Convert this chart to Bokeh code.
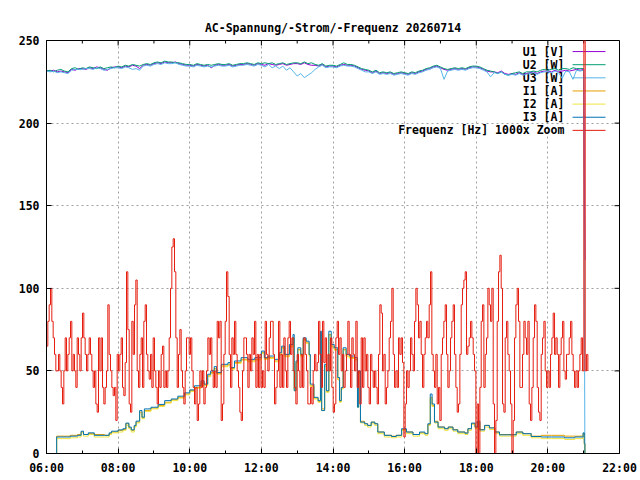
import numpy as np
from bokeh.plotting import figure
from bokeh.models import Range1d, FixedTicker
from bokeh.embed import file_html
from bokeh.resources import INLINE
from bokeh.core.properties import value

def hm(s):
    h, m = s.split(":")
    return int(h) + int(m) / 60.0

TITLE = "AC-Spannung/-Strom/-Frequenz 20260714"
X_TICK_LABELS = ["06:00", "08:00", "10:00", "12:00", "14:00", "16:00", "18:00", "20:00", "22:00"]
X_MINOR_LABELS = ["07:00", "09:00", "11:00", "13:00", "15:00", "17:00", "19:00", "21:00"]
Y_TICKS = [0, 50, 100, 150, 200, 250]

SERIES_NAMES = ["U1 [V]", "U2 [W]", "U3 [W]", "I1 [A]", "I2 [A]", "I3 [A]", "Frequenz [Hz] 1000x Zoom"]
COLORS = ["#9400D3", "#009E73", "#56B4E9", "#E69F00", "#F0E442", "#0072B2", "#E51E10"]

# Voltages, sampled every 6 minutes from 06:00 to 21:00, final reading at 21:02
V_START = "06:00"
V_STEP_MIN = 6
V_END_TIME = "21:02"
U1 = [232.0, 231.5, 232.0, 231.0, 231.5, 231.0, 230.5, 232.5, 232.0, 233.0,
      233.0, 232.5, 233.5, 233.0, 234.0, 233.5, 232.5, 232.0, 233.5, 234.0,
      234.0, 233.5, 234.5, 234.0, 235.0, 234.5, 233.0, 235.0, 235.5, 235.0,
      236.0, 236.5, 236.0, 237.0, 236.5, 236.5, 237.0, 236.0, 235.5, 235.0,
      235.0, 234.5, 235.5, 235.0, 234.5, 235.0, 233.5, 235.0, 235.5, 235.0,
      235.0, 235.5, 234.5, 235.0, 235.5, 235.5, 236.0, 235.5, 235.0, 236.0,
      235.5, 235.0, 236.0, 235.5, 235.0, 235.5, 236.0, 235.0, 235.5, 236.0,
      236.0, 235.5, 236.5, 235.5, 235.0, 235.0, 234.5, 235.5, 234.0, 234.5,
      234.5, 234.0, 235.0, 235.5, 235.0, 235.0, 234.5, 233.5, 232.5, 232.0,
      231.5, 230.5, 231.5, 230.0, 230.5, 230.0, 230.5, 229.5, 230.0, 230.5,
      230.0, 229.5, 230.5, 230.0, 231.0, 231.5, 232.5, 233.0, 234.0, 234.5,
      233.5, 232.5, 232.0, 232.5, 233.0, 232.5, 233.0, 232.5, 233.5, 234.0,
      234.0, 233.5, 232.5, 231.5, 231.0, 231.0, 230.5, 231.5, 230.0, 229.5,
      230.0, 229.5, 230.5, 229.5, 230.0, 230.5, 231.0, 230.0, 231.0, 231.5,
      231.5, 231.0, 232.0, 231.0, 231.5, 232.0, 231.5, 232.0, 232.5, 232.0,
      232.5]
U1_END = 117.0
U2 = [231.5, 232.0, 231.0, 232.0, 232.5, 231.5, 231.0, 233.0, 233.5, 232.5,
      233.5, 233.0, 234.0, 233.5, 233.0, 234.0, 233.0, 233.5, 234.0, 233.5,
      234.5, 234.0, 235.0, 234.5, 235.5, 235.0, 234.5, 235.5, 236.0, 235.5,
      236.5, 237.0, 236.5, 237.5, 237.0, 237.0, 236.5, 236.5, 236.0, 235.5,
      235.5, 235.0, 236.0, 235.5, 235.0, 235.5, 235.0, 235.5, 236.0, 235.5,
      235.5, 236.0, 235.0, 235.5, 236.0, 236.0, 236.5, 236.0, 235.5, 236.5,
      236.0, 236.5, 236.0, 236.5, 235.5, 236.0, 236.5, 235.5, 236.0, 236.5,
      236.5, 236.0, 237.0, 236.0, 236.5, 235.5, 235.0, 236.0, 234.5, 235.0,
      235.0, 234.5, 235.5, 236.5, 235.5, 235.5, 235.0, 234.0, 233.0, 232.5,
      232.0, 231.0, 232.0, 230.5, 231.0, 230.5, 231.0, 230.0, 230.5, 231.0,
      230.5, 230.0, 231.0, 230.5, 231.5, 232.0, 233.0, 233.5, 234.5, 235.0,
      234.0, 233.0, 232.5, 233.0, 233.5, 233.0, 233.5, 233.0, 234.0, 234.5,
      234.5, 234.0, 233.0, 232.0, 231.5, 231.0, 230.0, 231.0, 229.5, 229.0,
      230.0, 230.5, 231.0, 230.0, 231.0, 231.0, 231.5, 231.0, 232.0, 232.5,
      232.0, 232.5, 233.0, 232.0, 233.0, 233.0, 232.5, 233.5, 233.0, 233.0,
      233.0]
U3 = [231.5, 231.0, 231.5, 230.5, 231.0, 230.5, 230.0, 232.0, 232.5, 232.5,
      232.5, 233.0, 233.0, 232.5, 233.5, 233.0, 232.0, 232.5, 233.0, 233.5,
      233.5, 233.0, 234.0, 233.5, 232.5, 233.0, 232.0, 234.5, 235.0, 234.5,
      235.5, 236.0, 235.5, 236.5, 236.0, 236.0, 236.5, 235.5, 235.0, 234.5,
      234.5, 234.0, 235.0, 234.5, 234.0, 234.5, 234.0, 234.5, 235.0, 234.5,
      234.5, 235.0, 234.0, 234.5, 235.0, 235.0, 235.5, 235.0, 234.5, 235.5,
      235.0, 234.0, 235.5, 233.5, 234.5, 233.0, 234.5, 232.0, 233.5, 231.0,
      228.5, 230.0, 227.5, 229.0, 230.5, 232.5, 234.0, 235.0, 233.5, 234.0,
      234.0, 233.5, 234.5, 235.0, 234.5, 234.5, 234.0, 233.0, 232.0, 231.0,
      231.0, 230.0, 231.0, 229.5, 230.0, 229.5, 230.0, 229.0, 229.5, 230.0,
      229.5, 229.0, 230.0, 229.5, 230.5, 231.0, 232.0, 232.5, 233.5, 234.0,
      233.0, 226.5, 231.5, 232.0, 232.5, 232.0, 232.5, 232.0, 233.0, 233.5,
      233.5, 233.0, 232.0, 231.0, 228.0, 230.5, 230.0, 231.0, 229.5, 229.0,
      229.5, 229.0, 230.0, 229.0, 229.5, 230.0, 230.5, 229.5, 230.5, 231.0,
      231.0, 230.5, 231.5, 230.5, 227.0, 231.5, 231.0, 226.5, 232.0, 231.5,
      232.0]
U3_END = 0.0

# Currents, irregular sampling
CUR_TIMES = ["06:15", "06:17", "06:40", "06:52", "06:58", "07:02", "07:10", "07:20", "07:37", "07:45",
             "07:49", "08:00", "08:08", "08:13", "08:18", "08:22", "08:27", "08:30", "08:36", "08:40",
             "08:44", "08:55", "09:07", "09:18", "09:29", "09:40", "09:51", "10:00", "10:08", "10:19",
             "10:24", "10:30", "10:35", "10:41", "10:45", "10:53", "11:04", "11:08", "11:15", "11:26",
             "11:37", "11:49", "12:00", "12:05", "12:11", "12:22", "12:30", "12:34", "12:39", "12:47",
             "12:53", "12:55", "12:58", "13:01", "13:06", "13:10", "13:15", "13:20", "13:22", "13:28",
             "13:35", "13:39", "13:41", "13:46", "13:49", "13:53", "13:57", "14:02", "14:08", "14:11",
             "14:14", "14:17", "14:22", "14:28", "14:36", "14:41", "14:43", "14:46", "14:53", "14:58",
             "15:04", "15:10", "15:15", "15:26", "15:38", "15:46", "15:55", "16:03", "16:14", "16:25",
             "16:34", "16:39", "16:43", "16:46", "16:50", "16:56", "17:07", "17:13", "17:21", "17:29",
             "17:41", "17:46", "17:52", "17:58", "18:02", "18:06", "18:14", "18:22", "18:31", "18:39",
             "18:53", "19:07", "19:18", "19:32", "19:49", "20:06", "20:28", "20:45", "20:59", "21:01",
             "21:02"]
I3 = [0, 10.0, 10.5, 11.0, 13.5, 11.5, 12.5, 11.0, 11.0, 12.5,
      13.5, 14.3, 15.0, 18.4, 16.0, 14.3, 17.0, 19.6, 26.0, 22.0,
      27.0, 28.0, 29.7, 32.0, 33.0, 34.7, 36.7, 38.5, 41.0, 44.0,
      42.0, 48.0, 50.0, 52.6, 49.0, 54.0, 55.0, 52.0, 56.0, 58.0,
      57.0, 58.0, 62.0, 58.0, 59.0, 57.0, 61.0, 65.0, 60.0, 66.0,
      72.0, 38.0, 56.0, 64.0, 60.0, 70.0, 68.0, 60.0, 42.0, 34.0,
      32.0, 74.0, 26.0, 54.0, 38.0, 74.0, 66.0, 64.0, 46.0, 32.0,
      40.0, 64.0, 60.0, 59.0, 58.0, 28.0, 50.0, 19.0, 18.0, 17.0,
      19.0, 18.0, 13.0, 11.0, 10.3, 11.0, 15.0, 13.0, 11.5, 13.0,
      12.0, 18.0, 36.0, 30.0, 19.0, 16.0, 15.0, 16.0, 14.3, 13.0,
      12.3, 15.0, 18.4, 16.0, 19.6, 14.3, 17.0, 15.5, 13.0, 11.3,
      11.3, 13.0, 12.0, 10.3, 10.0, 10.0, 9.5, 10.0, 12.5, 6.0,
      0]
I1 = [0, 10.5, 11.0, 11.5, 13.0, 11.5, 12.0, 11.5, 11.0, 12.0,
      13.0, 14.0, 14.5, 18.0, 15.5, 14.0, 16.5, 19.0, 25.0, 21.5,
      26.0, 27.5, 29.0, 31.0, 32.5, 34.0, 36.0, 38.0, 40.0, 43.0,
      41.5, 47.0, 49.0, 51.5, 48.5, 53.0, 54.0, 51.5, 55.0, 57.0,
      56.0, 57.0, 61.0, 57.5, 58.0, 56.0, 60.0, 64.0, 59.0, 65.0,
      70.0, 39.0, 55.0, 63.0, 59.0, 69.0, 67.0, 59.5, 41.0, 33.5,
      31.5, 72.0, 27.0, 53.0, 37.5, 72.0, 65.0, 63.0, 45.0, 31.5,
      39.5, 63.0, 59.0, 58.0, 57.0, 29.0, 49.0, 19.5, 18.0, 17.0,
      19.0, 18.0, 13.0, 11.0, 10.5, 11.0, 14.5, 13.0, 11.5, 12.5,
      12.0, 17.5, 34.0, 29.0, 19.5, 16.0, 15.0, 16.0, 14.5, 13.0,
      12.5, 15.0, 18.0, 16.0, 19.0, 14.5, 17.0, 15.5, 13.0, 11.5,
      11.5, 13.0, 12.0, 10.5, 11.0, 11.0, 10.5, 10.5, 12.0, 6.0,
      0]
I2 = [0, 9.0, 9.5, 10.0, 12.5, 10.5, 11.5, 10.0, 10.0, 11.5,
      12.5, 13.0, 14.0, 17.0, 15.0, 13.0, 16.0, 18.5, 24.5, 21.0,
      25.5, 27.0, 28.5, 30.5, 32.0, 33.5, 35.5, 37.5, 39.5, 42.5,
      41.0, 46.5, 48.5, 51.0, 48.0, 52.5, 53.5, 51.0, 54.5, 56.5,
      55.5, 56.5, 60.5, 57.0, 57.5, 55.5, 59.5, 63.5, 58.5, 64.5,
      69.5, 38.0, 54.5, 62.5, 58.5, 68.5, 66.5, 59.0, 40.5, 33.0,
      31.0, 71.0, 26.0, 52.5, 37.0, 71.5, 64.5, 62.5, 44.5, 31.0,
      39.0, 62.5, 58.5, 57.5, 56.5, 28.0, 48.5, 18.5, 17.0, 16.0,
      18.0, 17.0, 12.0, 10.0, 9.5, 10.0, 14.0, 12.0, 10.5, 12.0,
      11.0, 17.0, 33.5, 28.5, 18.5, 15.0, 14.0, 15.0, 13.5, 12.0,
      11.5, 14.0, 17.5, 15.0, 18.5, 13.5, 16.0, 14.5, 12.0, 10.5,
      10.5, 12.0, 11.0, 9.5, 9.0, 9.0, 8.5, 9.0, 11.5, 5.0,
      0]

# Frequency (1000x zoom), sampled every ~2.234 minutes from 06:00
F_START = "06:00"
F_STEP_MIN = 2.234
FREQ = [
    65, 80, 90, 100, 80, 70, 60, 50, 50, 60, 50, 40, 30, 50, 70, 50, 60, 70, 80, 50,
    60, 50, 40, 70, 60, 50, 70, 85, 70, 60, 50, 60, 70, 60, 50, 40, 50, 30, 25, 70,
    50, 70, 40, 30, 40, 50, 90, 60, 50, 40, 35, 40, 20, 60, 50, 60, 70, 40, 35, 55,
    110, 75, 30, 25, 80, 60, 90, 105, 50, 40, 60, 70, 40, 80, 90, 60, 50, 45, 60, 40,
    70, 50, 40, 30, 50, 40, 60, 65, 40, 50, 40, 50, 70, 100, 125, 130, 110, 70, 40, 60,
    75, 50, 40, 30, 50,
    70, 70, 60, 70, 50, 40, 30, 40, 20, 30, 50, 40, 50, 30, 40, 50, 70, 60, 70, 50,
    40, 50, 40, 80, 70, 80, 20, 30, 60, 80, 110, 95, 60, 40, 70, 60, 80, 60, 50, 40,
    25, 20, 50, 70, 70, 60, 40, 60, 50, 70, 60, 80, 40, 60, 40, 60, 40, 50, 40, 80,
    60, 50, 70, 80, 80, 60, 30, 40, 50, 80, 40, 60, 40, 70, 50, 40, 70, 80, 60, 70,
    50, 40, 30, 60, 50, 40, 60, 40, 70, 60, 50, 30, 30, 40, 30, 50, 60, 50, 55, 80,
    60, 40, 80, 55, 70,
    50, 60, 50, 70, 40, 25, 30, 70, 80, 60, 70, 50, 60, 40, 50, 60, 80, 60, 40, 70,
    60, 50, 80, 40, 50, 30, 70, 40, 70, 50, 60, 40, 30, 60, 50, 40, 50, 40, 30, 60,
    90, 85, 50, 60, 30, 40, 50, 70, 80, 100, 60, 40, 50, 40, 70, 60, 70, 55, 10, 30,
    50, 40, 50, 70, 60, 50, 80, 100, 90, 70, 80, 60, 40, 60, 70, 80, 70, 90, 110, 60,
    50, 40, 60, 30, 40, 20, 60, 70, 80, 90, 60, 40, 50, 70, 80, 90, 60, 40, 25, 30,
    60, 90, 100, 105, 110,
    60, 65, 70, 80, 70, 60, 50, 0, 30, 0, 40, 80, 90, 40, 60, 70, 100, 90, 80, 100,
    30, 0, 20, 80, 110, 120, 100, 30, 25, 70, 80, 60, 50, 30, 0, 20, 70, 90, 100, 80,
    40, 40, 60, 80, 70, 60, 80, 30, 20, 40, 70, 90, 80, 40, 25, 20, 60, 70, 80, 50,
    40, 50, 40, 60, 70, 85, 60, 70, 60, 40, 60, 70, 80, 50, 45, 60, 60, 70, 80, 60,
    50, 40, 50, 40, 50, 60, 70, 50, 300, 50, 60, 50,
]

FONT = "DejaVu Sans Mono"
FSIZE = "11.5px"

v_t = list(hm(V_START) + np.arange(len(U1)) * V_STEP_MIN / 60.0)
u1_t = v_t + [hm(V_END_TIME)]
u1_v = U1 + [U1_END]
u2_t = v_t
u2_v = U2
u3_t = v_t + [hm(V_END_TIME)]
u3_v = U3 + [U3_END]
cur_t = [hm(s) for s in CUR_TIMES]
f_t = hm(F_START) + np.arange(len(FREQ)) * F_STEP_MIN / 60.0

x_major = [hm(s) for s in X_TICK_LABELS]
x_minor = [hm(s) for s in X_MINOR_LABELS]

W, H = 640, 480
BL, BR, BT, BB = 46, 21, 40, 27
p = figure(width=W, height=H, output_backend="svg", toolbar_location=None,
           x_range=Range1d(x_major[0], x_major[-1]), y_range=Range1d(Y_TICKS[0], Y_TICKS[-1]),
           min_border_left=BL, min_border_right=BR, min_border_top=BT, min_border_bottom=BB,
           background_fill_color="white", border_fill_color="white")

p.title.text = TITLE
p.title.align = "center"
p.title.text_font = FONT
p.title.text_font_size = FSIZE
p.title.text_font_style = "bold"
p.title.text_color = "black"
p.title.standoff = 12

p.outline_line_color = "black"
p.outline_line_width = 1
p.outline_line_alpha = 1

xt = FixedTicker(ticks=x_major, minor_ticks=x_minor)
yt = FixedTicker(ticks=Y_TICKS, minor_ticks=[])

MAJ_PX, MIN_PX = 5, 3

def style_axis(ax):
    ax.axis_line_color = "black"
    ax.major_tick_in = MAJ_PX
    ax.major_tick_out = 0
    ax.minor_tick_in = MIN_PX
    ax.minor_tick_out = 0
    ax.major_tick_line_color = "black"
    ax.minor_tick_line_color = "black"
    ax.major_label_text_font = FONT
    ax.major_label_text_font_size = FSIZE
    ax.major_label_text_font_style = "bold"
    ax.major_label_text_color = "black"

p.xaxis.ticker = xt
p.xaxis.major_label_overrides = {v: s for v, s in zip(x_major, X_TICK_LABELS)}
style_axis(p.xaxis[0])
p.xaxis.major_label_standoff = 7
p.yaxis.ticker = yt
style_axis(p.yaxis[0])
p.yaxis.major_label_standoff = 7
p.yaxis.minor_tick_line_color = None

for g, t in ((p.xgrid, xt), (p.ygrid, yt)):
    g.ticker = t
    g.grid_line_color = "#a0a0a0"
    g.grid_line_dash = "2 3"
    g.grid_line_width = 1

# mirrored ticks on top and right border (gnuplot style)
frame_w = W - BL - BR
frame_h = H - BT - BB
dx_px = (x_major[-1] - x_major[0]) / frame_w
dy_px = (Y_TICKS[-1] - Y_TICKS[0]) / frame_h
y_top = Y_TICKS[-1]
x_right = x_major[-1]
p.segment(x0=x_major, y0=[y_top] * len(x_major), x1=x_major,
          y1=[y_top - MAJ_PX * dy_px] * len(x_major), line_color="black", line_width=1)
p.segment(x0=x_minor, y0=[y_top] * len(x_minor), x1=x_minor,
          y1=[y_top - MIN_PX * dy_px] * len(x_minor), line_color="black", line_width=1)
p.segment(x0=[x_right] * len(Y_TICKS), y0=Y_TICKS, x1=[x_right - MAJ_PX * dx_px] * len(Y_TICKS),
          y1=Y_TICKS, line_color="black", line_width=1)

# key (gnuplot style: label right-aligned, sample line to its right)
KEY_TEXT_X = 20.46
KEY_LINE_X0 = 20.69
KEY_LINE_X1 = 21.61
KEY_Y0 = 243.3
KEY_DY = 7.95
key_y = [KEY_Y0 - i * KEY_DY for i in range(len(SERIES_NAMES))]
p.text(x=[KEY_TEXT_X] * len(SERIES_NAMES), y=key_y, text=SERIES_NAMES,
       text_align="right", text_baseline="middle", text_font=value(FONT),
       text_font_size=value(FSIZE), text_font_style="bold", text_color="black")
p.segment(x0=[KEY_LINE_X0] * len(SERIES_NAMES), y0=key_y, x1=[KEY_LINE_X1] * len(SERIES_NAMES),
          y1=key_y, line_color=COLORS, line_width=1)

for (tx, vy), c in zip([(u1_t, u1_v), (u2_t, u2_v), (u3_t, u3_v)], COLORS[:3]):
    p.line(x=list(tx), y=list(vy), line_color=c, line_width=1)
for (tx, vy), c in zip([(cur_t, I1), (cur_t, I2), (cur_t, I3), (f_t, FREQ)], COLORS[3:]):
    p.step(x=list(tx), y=list(vy), mode="after", line_color=c, line_width=1)

open("out.html", "w").write(file_html(p, INLINE))
